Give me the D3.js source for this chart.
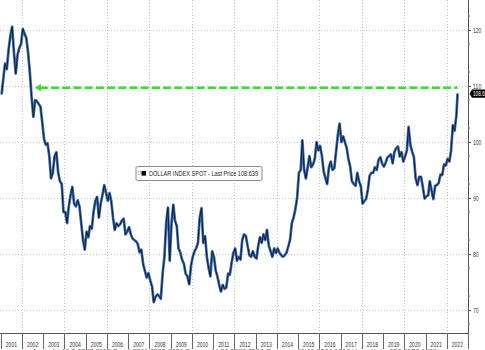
<!DOCTYPE html>
<html>
<head>
<meta charset="utf-8">
<script src="https://cdn.jsdelivr.net/npm/d3@7/dist/d3.min.js"></script>
<style>
  html, body { margin: 0; padding: 0; background: #fff; }
  svg { display: block; }
  text { font-family: "Liberation Sans", Arial, sans-serif; }
</style>
</head>
<body>
<svg id="chart" width="485" height="350"></svg>
<script>
// Dollar Index (DXY) spot, monthly levels, Jan 2001 .. Jun 2022
const firstMonth = "2001-01-15";
const dxyMonthly = [
  108.5, 111.5, 114.0, 113.0, 116.5, 119.0, 120.6, 116.0, 112.2, 115.5, 116.8, 117.5, // 2001
  120.2, 119.3, 118.6, 116.0, 112.5, 108.0, 104.5, 107.5, 107.3, 106.8, 106.3, 103.5, // 2002
  100.5,  99.5,  99.8,  97.5,  93.5,  94.5,  97.5,  98.2,  94.5,  93.0,  92.5,  87.5, // 2003
   87.5,  85.5,  88.5,  90.5,  92.0,  89.0,  88.5,  89.6,  88.5,  85.5,  82.5,  80.8, // 2004
   84.0,  83.0,  85.0,  84.5,  87.5,  89.5,  90.2,  86.5,  89.0,  90.5,  92.3,  91.0, // 2005
   89.5,  90.9,  89.5,  86.5,  84.3,  85.5,  85.0,  85.3,  86.0,  86.3,  83.5,  84.0, // 2006
   84.8,  83.5,  82.8,  82.5,  82.3,  81.8,  80.3,  80.8,  78.2,  77.0,  75.8,  76.6, // 2007
   75.3,  74.2,  71.4,  72.3,  72.8,  72.5,  72.0,  76.5,  79.5,  85.5,  88.3,  78.8, // 2008
   85.5,  88.8,  86.0,  85.0,  81.0,  80.3,  79.0,  78.3,  76.5,  76.0,  74.6,  77.8, // 2009
   79.5,  80.5,  81.0,  82.0,  86.5,  88.2,  82.0,  83.2,  79.5,  77.5,  76.0,  80.5, // 2010
   79.5,  77.0,  76.0,  74.5,  73.3,  74.5,  73.8,  74.0,  76.5,  76.3,  78.5,  80.2, // 2011
   81.0,  78.8,  79.5,  79.0,  82.5,  83.5,  83.3,  81.5,  79.8,  79.5,  80.5,  79.5, // 2012
   79.2,  81.5,  83.0,  82.0,  83.5,  82.5,  84.3,  81.5,  80.5,  79.5,  81.0,  80.2, // 2013
   81.0,  80.2,  79.8,  79.5,  79.8,  80.2,  81.3,  82.5,  85.5,  86.5,  88.0,  90.0, // 2014
   94.5,  95.0, 100.3,  95.0,  93.5,  95.5,  97.5,  95.5,  96.0,  97.0, 100.0,  98.5, // 2015
   99.3,  97.5,  94.8,  93.5,  92.5,  95.5,  96.5,  95.0,  95.3,  98.3, 101.3, 103.3, // 2016
  100.0, 101.0, 100.0,  99.0,  97.0,  95.6,  93.0,  92.5,  92.2,  94.5,  93.0,  92.1, // 2017
   89.0,  89.5,  89.8,  91.5,  94.0,  94.5,  94.5,  95.5,  95.0,  96.8,  97.3,  96.2, // 2018
   95.6,  96.3,  97.2,  97.5,  97.8,  96.2,  98.2,  98.9,  99.2,  97.4,  98.2,  96.5, // 2019
   97.4,  98.5, 102.7,  99.5,  98.3,  97.3,  93.5,  92.3,  93.8,  93.8,  92.0,  89.9, // 2020
   90.3,  90.5,  93.0,  91.3,  89.8,  92.2,  92.3,  92.7,  94.2,  94.1,  96.0,  95.8, // 2021
   97.0,  96.5,  98.4, 103.0, 102.0, 104.7                                            // 2022
];
const lastDate = "2022-07-06";
const lastPrice = 108.639;

// level marked by the green dashed arrow, and the span it covers
const refLevel = 109.7;
const refStart = "2002-08-10";
const refEnd = "2022-07-06";

const yTicks = [70, 80, 90, 100, 110, 120];
const yearLabels = ["2001","2002","2003","2004","2005","2006","2007","2008","2009","2010","2011",
                    "2012","2013","2014","2015","2016","2017","2018","2019","2020","2021","2022"];
const seriesName = "DOLLAR INDEX SPOT";
const footer = "Australia 61 2 9777 8600  Brazil 5511 2395 9000  Europe 44 20 7330 7500  Germany 49 69 9204 1210  Hong Kong 852 2977 6000";

// ---------------------------------------------------------------------------
const parse = d3.timeParse("%Y-%m-%d");
const start = parse(firstMonth);
const data = dxyMonthly.map((v, i) => ({ date: d3.timeMonth.offset(start, i), value: v }));
data.push({ date: parse(lastDate), value: lastPrice });

const svg = d3.select("#chart");
const plotRight = 468, plotBottom = 333;

const x = d3.scaleTime()
  .domain([new Date(2001, 0, 1), new Date(2023, 0, 1)])
  .range([0.8, plotRight]);
const y = d3.scaleLinear()
  .domain([65.9, 125.36])
  .range([plotBottom, 0]);

// condensed text helper: squeeze glyphs to a target width
function squeeze(sel, perChar) {
  sel.each(function () {
    const t = d3.select(this);
    const n = t.text().length;
    t.attr("textLength", n * perChar).attr("lengthAdjust", "spacingAndGlyphs");
  });
}

// gridlines
const grid = svg.append("g").attr("stroke", "#c4c4c4").attr("stroke-width", 1)
  .attr("stroke-dasharray", "1,2");
yTicks.forEach(t => {
  grid.append("line").attr("x1", 0).attr("x2", plotRight)
    .attr("y1", Math.round(y(t)) + 0.5).attr("y2", Math.round(y(t)) + 0.5);
});
yearLabels.filter(yr => +yr % 2 === 0).forEach(yr => {
  const gx = Math.round(x(new Date(+yr, 0, 1))) + 0.5;
  grid.append("line").attr("x1", gx).attr("x2", gx).attr("y1", 0).attr("y2", plotBottom);
});

// series line: blue body with a dark core
const line = d3.line().x(d => x(d.date)).y(d => y(d.value)).curve(d3.curveLinear);
svg.append("path").datum(data).attr("d", line)
  .attr("fill", "none").attr("stroke", "#3c6fb5").attr("stroke-width", 2.7)
  .attr("stroke-linejoin", "round");
svg.append("path").datum(data).attr("d", line)
  .attr("fill", "none").attr("stroke", "#101c36").attr("stroke-width", 1.0)
  .attr("stroke-linejoin", "round");

// green dashed reference arrow
const green = "#33e02c";
const ry = y(refLevel);
const rx0 = x(parse(refStart)), rx1 = x(parse(refEnd));
svg.append("line")
  .attr("x1", rx0 + 5).attr("x2", rx1).attr("y1", ry).attr("y2", ry)
  .attr("stroke", green).attr("stroke-width", 2.6).attr("stroke-dasharray", "8,3.2");
svg.append("path")
  .attr("d", `M${rx0},${ry} L${rx0 + 6},${ry - 3.6} L${rx0 + 6},${ry + 3.6} Z`)
  .attr("fill", green);

// right axis
const yAxis = svg.append("g").attr("transform", `translate(${plotRight},0)`)
  .call(d3.axisRight(y).tickValues(yTicks).tickSize(3).tickPadding(2).tickFormat(d3.format("d")));
yAxis.select(".domain").attr("stroke", "#555").attr("d", `M0.5,0V${plotBottom}`);
yAxis.selectAll(".tick line").attr("stroke", "#555");
yAxis.selectAll(".tick text").attr("fill", "#333").attr("font-size", 7)
  .attr("font-family", "'Liberation Sans',Arial,sans-serif").call(squeeze, 2.8);
// minor ticks
yAxis.selectAll(".minor").data(d3.range(67.5, 125, 5)).enter().append("line")
  .attr("x1", 0).attr("x2", 2).attr("y1", d => y(d)).attr("y2", d => y(d)).attr("stroke", "#777");

// bottom axis: year separators and centred labels
const xg = svg.append("g").attr("transform", `translate(0,${plotBottom})`);
xg.append("line").attr("x1", 0).attr("x2", plotRight).attr("y1", 0.5).attr("y2", 0.5).attr("stroke", "#555");
const bounds = yearLabels.map(yr => new Date(+yr, 0, 1)).concat([new Date(2023, 0, 1)]);
xg.selectAll(".sep").data(bounds).enter().append("line")
  .attr("x1", d => Math.round(x(d)) + 0.5).attr("x2", d => Math.round(x(d)) + 0.5)
  .attr("y1", 0).attr("y2", 16).attr("stroke", "#666");
xg.selectAll(".yl").data(yearLabels).enter().append("text")
  .attr("x", d => x(new Date(+d, 6, 2)))
  .attr("y", 13.5)
  .attr("text-anchor", "middle").attr("font-size", 6.8).attr("fill", "#333")
  .text(d => d).call(squeeze, 2.8);

// footer (mostly clipped at the bottom edge)
svg.append("text").attr("x", 32).attr("y", 354).attr("font-size", 7).attr("fill", "#666")
  .text(footer).attr("textLength", 405).attr("lengthAdjust", "spacingAndGlyphs");

// legend box
const lg = svg.append("g").attr("transform", "translate(135.5,166)");
lg.append("rect").attr("x", 0.5).attr("y", 0.5).attr("width", 126).attr("height", 14)
  .attr("rx", 1.5).attr("fill", "#fff").attr("stroke", "#8a8a8a");
lg.append("rect").attr("x", 2.5).attr("y", 5.5).attr("width", 2.5).attr("height", 3)
  .attr("fill", "none").attr("stroke", "#aaa").attr("stroke-width", 0.6);
lg.append("rect").attr("x", 6).attr("y", 5).attr("width", 4.5).attr("height", 4.6).attr("fill", "#000");
lg.append("text").attr("x", 13.5).attr("y", 10.3).attr("font-size", 6.6).attr("fill", "#222")
  .text(`${seriesName} - Last Price ${lastPrice}`)
  .attr("textLength", 109).attr("lengthAdjust", "spacingAndGlyphs");

// last price flag on the axis
const ly = y(lastPrice);
const flag = svg.append("g");
flag.append("path")
  .attr("d", `M${plotRight + 1.5},${ly} L${plotRight + 4},${ly - 4.2} H490 V${ly + 4.2} H${plotRight + 4} Z`)
  .attr("fill", "#000");
flag.append("text").attr("x", plotRight + 5).attr("y", ly + 2.4).attr("font-size", 6.8)
  .attr("fill", "#fff").text(lastPrice.toFixed(3))
  .attr("textLength", 17).attr("lengthAdjust", "spacingAndGlyphs");
</script>
</body>
</html>
